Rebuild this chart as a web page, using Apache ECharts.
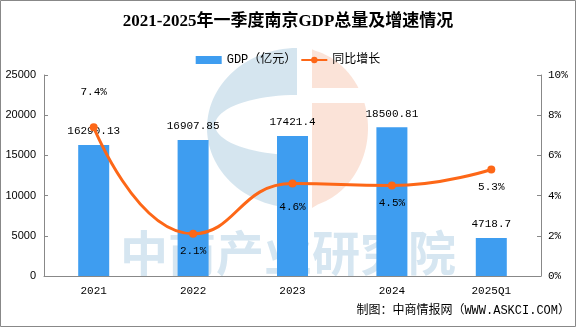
<!DOCTYPE html>
<html><head><meta charset="utf-8">
<script src="https://cdn.jsdelivr.net/npm/echarts@6/dist/echarts.min.js"></script>
<style>html,body{margin:0;padding:0;background:#fff}#c{width:576px;height:327px}</style>
</head><body><div id="c"></div>
<script>
const categories = ['2021', '2022', '2023', '2024', '2025Q1'];
const gdpValues = [16290.13, 16907.85, 17421.4, 18500.81, 4718.7];
const gdpLabels = ['16290.13', '16907.85', '17421.4', '18500.81', '4718.7'];
const growthValues = [7.4, 2.1, 4.6, 4.5, 5.3];
const growthLabelPos = ['top', 'bottom', 'bottom', 'bottom', 'bottom'];
const growthLabelDist = [26, 8, 14, 8, 8];

const FONT = '"Liberation Mono","Noto Sans CJK SC",monospace';
const CJK = '"Liberation Serif","Noto Sans CJK SC",serif';

function ellipsePts(cx, cy, rx, ry, a0, a1, n) {
  const pts = [];
  for (let i = 0; i <= n; i++) {
    const a = a0 + (a1 - a0) * i / n;
    pts.push([cx + rx * Math.cos(a), cy + ry * Math.sin(a)]);
  }
  return pts;
}
const cx = 297, cy = 128;
const blueC = [].concat(
  ellipsePts(cx, cy, 90, 80, -Math.PI / 2, -3 * Math.PI / 2, 60),
  [[297, 155]],
  ellipsePts(297, 125, 82, 30, Math.PI / 2, 3 * Math.PI / 2, 40)
);
function peachPiece(y0, y1) {
  const pts = [];
  const n = 30;
  for (let i = 0; i <= n; i++) {
    const y = y0 + (y1 - y0) * i / n;
    const t = (y - cy) / 80;
    const hw = 71 * Math.sqrt(Math.max(0, 1 - t * t));
    pts.push([Math.max(312, cx + hw), y]);
  }
  for (let i = n; i >= 0; i--) {
    const y = y0 + (y1 - y0) * i / n;
    pts.push([312, y]);
  }
  return pts;
}

const chart = echarts.init(document.getElementById('c'));
chart.setOption({
  animation: false,
  backgroundColor: '#fff',
  title: {
    text: '2021-2025年一季度南京GDP总量及增速情况',
    left: 'center', top: 8,
    textStyle: { fontSize: 17, fontWeight: 'bold', color: '#000', fontFamily: CJK }
  },
  legend: {
    top: 49, left: 'center', itemWidth: 26, itemHeight: 8, itemGap: 4,
    textStyle: { fontSize: 12, color: '#000', fontFamily: FONT },
    data: [
      { name: 'GDP（亿元）', icon: 'rect' },
      { name: '同比增长' }
    ]
  },
  grid: { left: 44, right: 35, top: 75, bottom: 51 },
  graphic: [
    { type: 'text', z: -10, silent: true, left: 'center', top: 229,
      style: { text: '中商产业研究院', fill: '#d6e6f1', font: 'bold 48px "Noto Sans CJK SC"' } },
    { type: 'polygon', z: -10, silent: true, shape: { points: blueC }, style: { fill: 'rgba(190,215,230,0.65)' } },
    { type: 'polygon', z: -10, silent: true, shape: { points: peachPiece(48, 88) }, style: { fill: 'rgba(250,215,200,0.7)' } },
    { type: 'polygon', z: -10, silent: true, shape: { points: peachPiece(103, 208) }, style: { fill: 'rgba(250,215,200,0.7)' } },
    { type: 'text', right: 6, top: 305,
      style: { text: '制图：中商情报网（WWW.ASKCI.COM）', fill: '#000', font: '12px "Liberation Mono","Noto Sans CJK SC"' } },
    { type: 'rect', silent: true, shape: { x: 0.5, y: 0.5, width: 575, height: 326 },
      style: { fill: 'none', stroke: '#888', lineWidth: 1 } }
  ],
  xAxis: {
    type: 'category', data: categories,
    axisLine: { lineStyle: { color: '#888' } },
    axisTick: { inside: true, length: 5, lineStyle: { color: '#888' } },
    axisLabel: { color: '#000', fontSize: 11, margin: 10, fontFamily: FONT }
  },
  yAxis: [
    { type: 'value', min: 0, max: 25000, interval: 5000,
      splitLine: { show: false },
      axisLine: { show: true, lineStyle: { color: '#888' } },
      axisTick: { show: true, inside: true, length: 4, lineStyle: { color: '#888' } },
      axisLabel: { color: '#000', fontSize: 11, margin: 8, fontFamily: '"Liberation Sans",sans-serif',
        formatter: v => String(v) } },
    { type: 'value', min: 0, max: 10, interval: 2,
      splitLine: { show: false },
      axisLine: { show: true, lineStyle: { color: '#888' } },
      axisTick: { show: true, inside: true, length: 4, lineStyle: { color: '#888' } },
      axisLabel: { color: '#000', fontSize: 11, margin: 7, formatter: '{value}%', fontFamily: FONT } }
  ],
  series: [
    { name: 'GDP（亿元）', type: 'bar', data: gdpValues, barWidth: 31,
      itemStyle: { color: '#3e9df0' },
      label: { show: true, position: 'top', distance: 8, color: '#000', fontSize: 11, fontFamily: FONT,
        formatter: p => gdpLabels[p.dataIndex] } },
    { name: '同比增长', type: 'line', yAxisIndex: 1, smooth: true,
      data: growthValues.map((v, i) => ({
        value: v,
        label: { position: growthLabelPos[i], distance: growthLabelDist[i] }
      })),
      symbol: 'circle', symbolSize: 8,
      lineStyle: { color: '#fd6717', width: 3 },
      itemStyle: { color: '#fd6717' },
      label: { show: true, color: '#000', fontSize: 11, fontFamily: FONT, formatter: p => p.value + '%' } }
  ]
});
</script></body></html>
